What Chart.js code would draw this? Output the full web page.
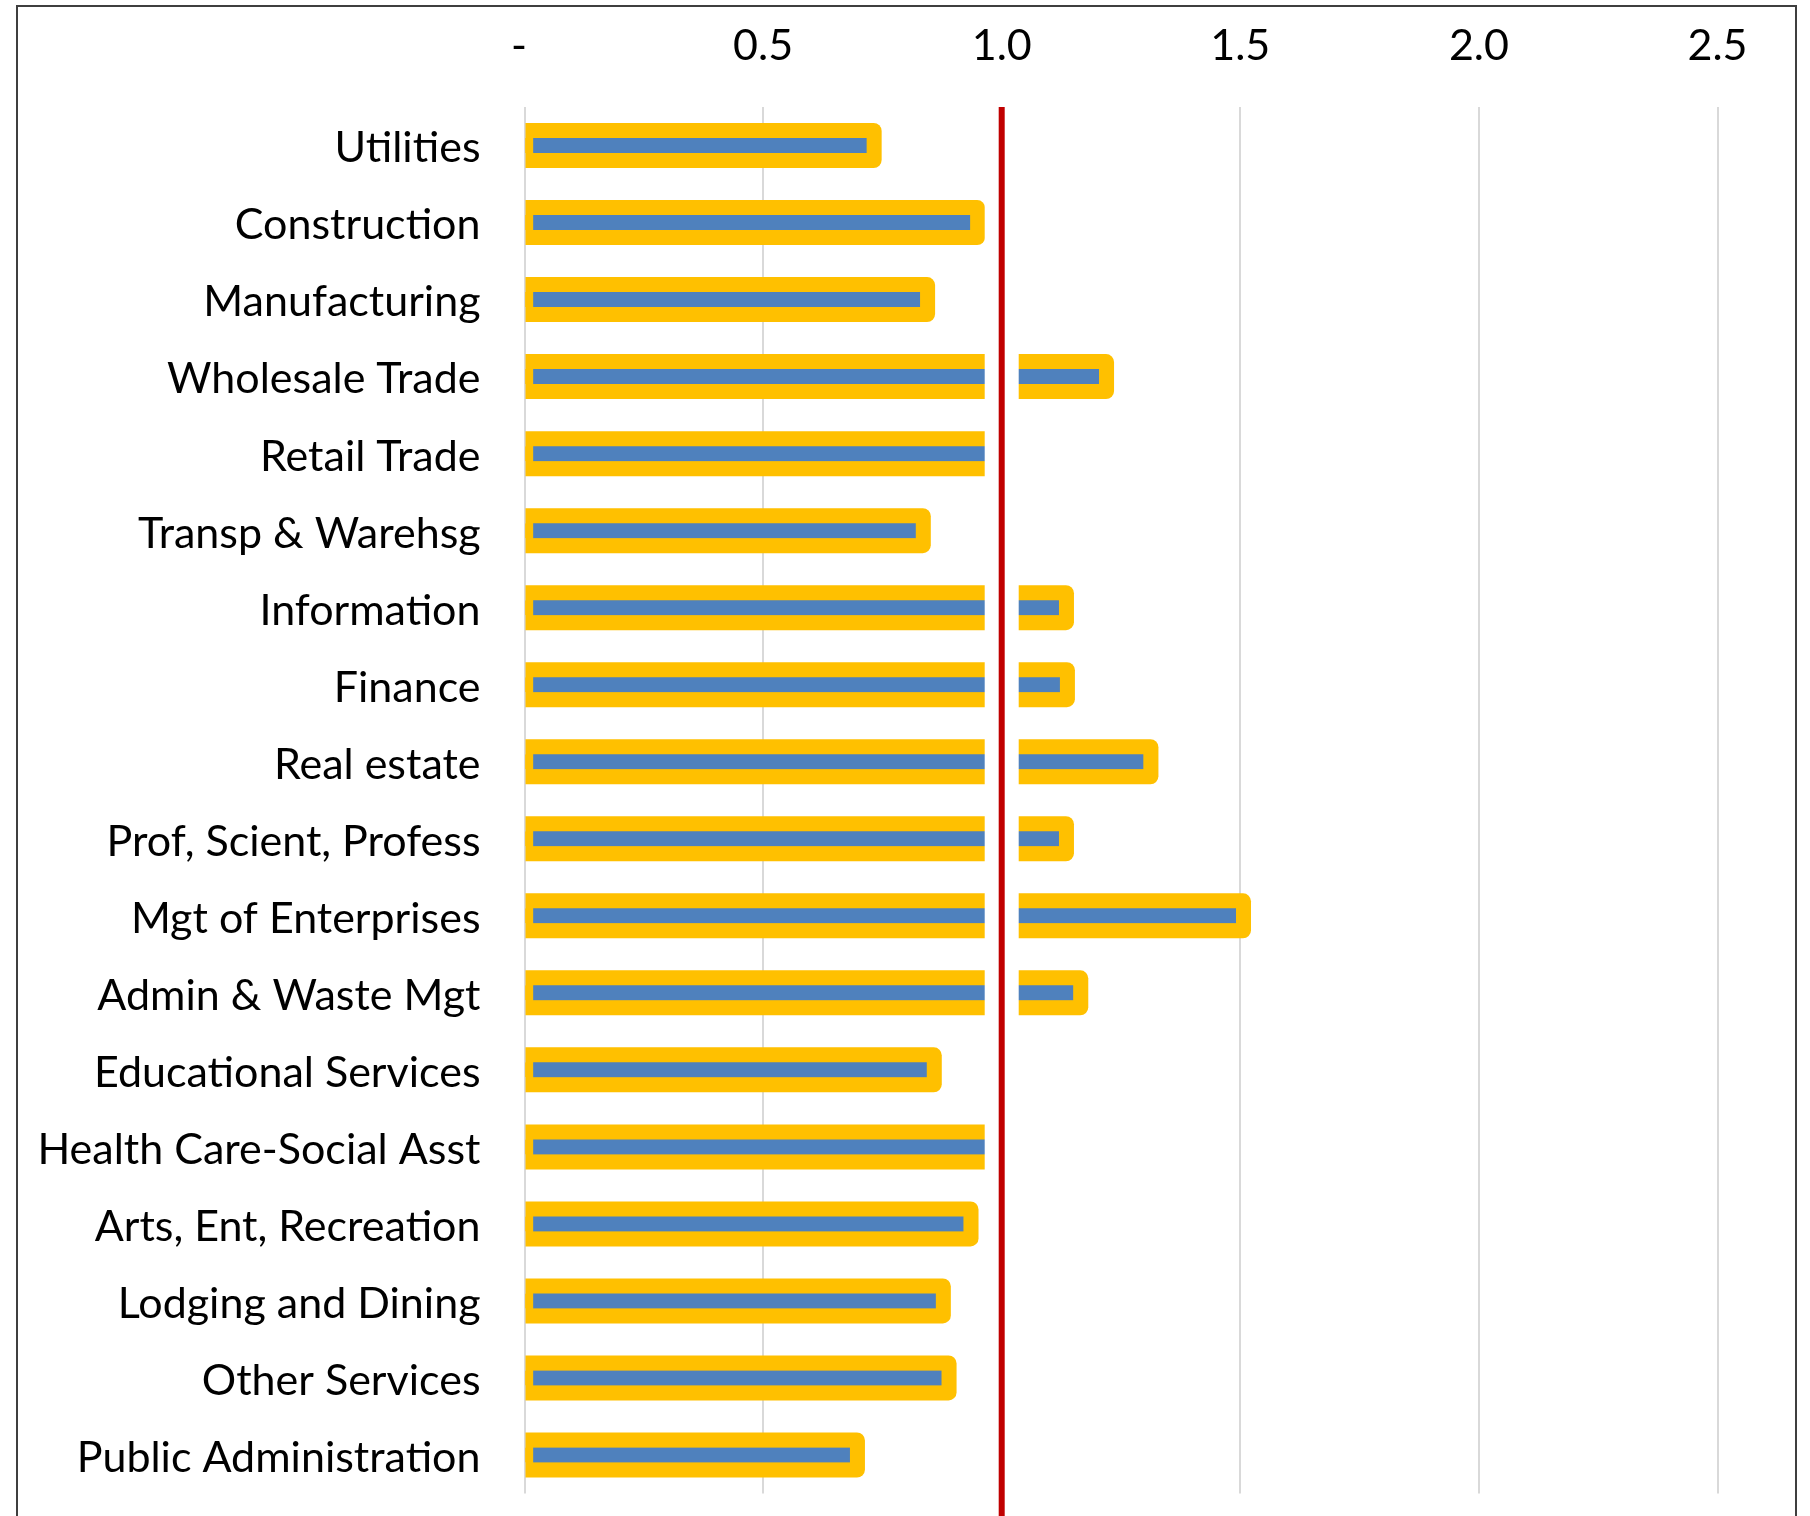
<!DOCTYPE html>
<html>
<head>
<meta charset="utf-8">
<script src="https://cdn.jsdelivr.net/npm/chart.js@4.4.1/dist/chart.umd.min.js"></script>
<style>
  html, body { margin: 0; padding: 0; background: #fff; overflow: hidden; }
  #frame {
    position: absolute; left: 16px; top: 5px; width: 1777px; height: 1600px;
    border: 2px solid #3f3f3f; border-bottom: none;
  }
  #chart { position: absolute; left: 0; top: 0; }
</style>
</head>
<body>
<div id="frame"></div>
<canvas id="chart" width="1810" height="1516"></canvas>
<script>
const categories = [
  "Utilities", "Construction", "Manufacturing", "Wholesale Trade", "Retail Trade",
  "Transp & Warehsg", "Information", "Finance", "Real estate", "Prof, Scient, Profess",
  "Mgt of Enterprises", "Admin & Waste Mgt", "Educational Services",
  "Health Care-Social Asst", "Arts, Ent, Recreation", "Lodging and Dining",
  "Other Services", "Public Administration"
];
const values = [
  0.717, 0.934, 0.829, 1.204, 0.98,
  0.820, 1.120, 1.122, 1.297, 1.120,
  1.491, 1.150, 0.843,
  0.98, 0.920, 0.862,
  0.874, 0.682
];
const tickValues = [0, 0.5, 1.0, 1.5, 2.0, 2.5];
const tickLabels = ["- ", "0.5", "1.0", "1.5", "2.0", "2.5"];
const referenceValue = 1.0;

const yellow = "#ffc000";
const blue = "#4f81bd";
const red = "#c00000";
const font = { family: "Lato", size: 43 };

// yellow glow drawn behind each blue bar
const haloPlugin = {
  id: "halo",
  beforeDatasetsDraw(chart) {
    const ctx = chart.ctx;
    ctx.save();
    ctx.fillStyle = yellow;
    chart.getDatasetMeta(0).data.forEach(bar => {
      const { x, y, base } = bar.getProps(["x", "y", "base"], true);
      const left = base, right = x + 15, top = y - 22.5, bottom = y + 22.5, r = 8;
      ctx.beginPath();
      ctx.moveTo(left, top);
      ctx.lineTo(right - r, top);
      ctx.arcTo(right, top, right, top + r, r);
      ctx.lineTo(right, bottom - r);
      ctx.arcTo(right, bottom, right - r, bottom, r);
      ctx.lineTo(left, bottom);
      ctx.closePath();
      ctx.fill();
    });
    ctx.restore();
  }
};

// red line at 1.0 with a white gap through the bars
const refLinePlugin = {
  id: "refLine",
  afterDatasetsDraw(chart) {
    const { ctx, chartArea, scales } = chart;
    const px = scales.x.getPixelForValue(referenceValue);
    ctx.save();
    ctx.fillStyle = "#fff";
    ctx.fillRect(px - 17, chartArea.top, 34, chartArea.bottom - chartArea.top);
    ctx.strokeStyle = red;
    ctx.lineWidth = 6;
    ctx.beginPath();
    ctx.moveTo(px, chartArea.top);
    ctx.lineTo(px, chart.height);
    ctx.stroke();
    ctx.restore();
  }
};

new Chart(document.getElementById("chart"), {
  type: "bar",
  data: {
    labels: categories,
    datasets: [
      {
        data: values,
        backgroundColor: blue,
        borderColor: yellow,
        borderWidth: { left: 8, right: 0, top: 0, bottom: 0 },
        borderSkipped: false,
        barThickness: 15,
      },
    ],
  },
  options: {
    indexAxis: "y",
    responsive: false,
    animation: false,
    devicePixelRatio: 1,
    layout: { padding: { top: 0, left: 0, right: 92.5, bottom: 22.5 } },
    plugins: {
      legend: { display: false },
      tooltip: { enabled: false },
    },
    scales: {
      x: {
        position: "top",
        min: 0,
        max: 2.5,
        afterBuildTicks: (scale) => {
          scale.ticks = tickValues.map(v => ({ value: v }));
        },
        afterFit: (scale) => { scale.height = 107; },
        ticks: {
          font: font,
          color: "#000",
          padding: 35,
          maxRotation: 0,
          callback: (value, index) => tickLabels[index],
        },
        grid: { color: "#d9d9d9", lineWidth: 2, drawTicks: false },
        border: { display: false },
      },
      y: {
        afterFit: (scale) => {
          scale.width = 524.5;
          scale.paddingTop = 0;
          scale.paddingBottom = 0;
        },
        ticks: { font: font, color: "#000", padding: 44, labelOffset: 3 },
        grid: { display: false, drawTicks: false },
        border: { display: false },
      },
    },
  },
  plugins: [haloPlugin, refLinePlugin],
});
</script>
</body>
</html>
